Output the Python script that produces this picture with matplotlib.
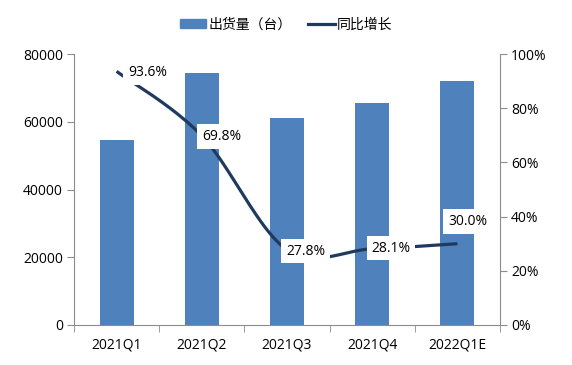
import numpy as np
import matplotlib
matplotlib.use("Agg")
import matplotlib.pyplot as plt
from matplotlib.patches import Patch
from matplotlib.lines import Line2D

plt.rcParams['font.family'] = ['Open Sans', 'Noto Sans CJK SC', 'DejaVu Sans']

categories = ['2021Q1', '2021Q2', '2021Q3', '2021Q4', '2022Q1E']
shipments = [54500, 74500, 61000, 65500, 72000]
yoy = [93.6, 69.8, 27.8, 28.1, 30.0]
yoy_labels = ['93.6%', '69.8%', '27.8%', '28.1%', '30.0%']

bar_color = '#4F81BD'
line_color = '#1F3A5F'
grey = '#8C8C8C'

fig = plt.figure(figsize=(5.72, 3.65), dpi=100)
ax = fig.add_axes([74/572, 40/365, 426/572, 271/365])
ax2 = ax.twinx()

x = np.arange(len(categories))
ax.bar(x, shipments, width=0.4, color=bar_color, zorder=2)
ax.set_xlim(-0.5, len(categories) - 0.5)
ax.set_ylim(0, 80000)
ax.set_yticks(np.arange(0, 80001, 20000))
ax.set_xticks(x)
ax.set_xticklabels(categories)
ax.set_xticks(np.arange(-0.5, len(categories), 1), minor=True)
ax.tick_params(axis='x', which='major', length=0, pad=9, labelsize=10)
ax.tick_params(axis='x', which='minor', length=5, color=grey, direction='out')
ax.tick_params(axis='y', length=5, color=grey, labelsize=10, pad=3)

# smooth line (Catmull-Rom through the data points)
def catmull(xs, ys, n=40):
    px = np.concatenate([[xs[0]], xs, [xs[-1]]])
    py = np.concatenate([[ys[0]], ys, [ys[-1]]])
    ox, oy = [], []
    for i in range(1, len(px) - 2):
        p0, p1, p2, p3 = [np.array([px[j], py[j]]) for j in (i - 1, i, i + 1, i + 2)]
        c1 = p1 + (p2 - p0) / 6
        c2 = p2 - (p3 - p1) / 6
        t = np.linspace(0, 1, n)[:, None]
        pts = (1 - t) ** 3 * p1 + 3 * (1 - t) ** 2 * t * c1 + 3 * (1 - t) * t ** 2 * c2 + t ** 3 * p2
        ox.extend(pts[:, 0]); oy.extend(pts[:, 1])
    return np.array(ox), np.array(oy)

sx, sy = catmull(x.astype(float), np.array(yoy, dtype=float))
ax2.plot(sx, sy, color=line_color, lw=2.3, solid_capstyle='butt', zorder=3)
ax2.set_ylim(0, 100)
ax2.set_yticks(np.arange(0, 101, 20))
ax2.set_yticklabels([f'{v}%' for v in range(0, 101, 20)])
ax2.tick_params(axis='y', length=5, color=grey, labelsize=10, pad=3)

offsets = [(0.36, -0.5), (0.23, -0.3), (0.22, -0.5), (0.22, 0.3), (0.12, 8.2)]
for xi, v, lab, (dx, dy) in zip(x, yoy, yoy_labels, offsets):
    ax2.text(xi + dx, v + dy, lab, ha='center', va='center', fontsize=10, color='black', zorder=5,
             bbox=dict(boxstyle='square,pad=0.35', fc='white', ec='none'))

for a in (ax, ax2):
    a.spines['top'].set_visible(False)
    for s in ('left', 'right', 'bottom'):
        a.spines[s].set_color(grey)
ax.spines['right'].set_visible(False)
ax2.spines['left'].set_visible(False)
ax2.spines['bottom'].set_visible(False)

handles = [Patch(color=bar_color), Line2D([0], [0], color=line_color, lw=2.3)]
fig.legend(handles, ['出货量（台）', '同比增长'], loc='center', bbox_to_anchor=(0.5, 1 - 25/365),
           ncol=2, frameon=False, fontsize=10, handlelength=1.9, handleheight=0.6,
           columnspacing=1.2, handletextpad=0.15)

fig.savefig('out.png', dpi=100)
